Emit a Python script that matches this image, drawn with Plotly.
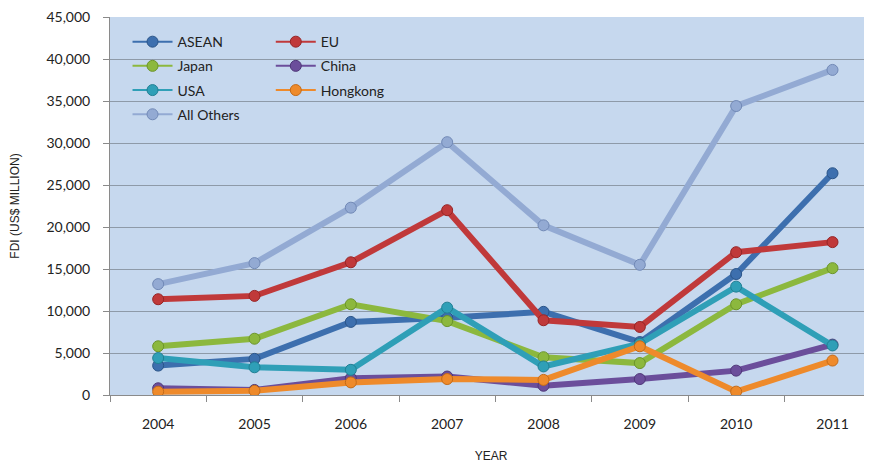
import plotly.graph_objects as go

years = ["2004", "2005", "2006", "2007", "2008", "2009", "2010", "2011"]

asean = [3500, 4300, 8700, 9200, 9900, 6300, 14400, 26400]
eu = [11400, 11800, 15800, 22000, 8900, 8100, 17000, 18200]
japan = [5800, 6700, 10800, 8800, 4500, 3800, 10800, 15100]
china = [800, 600, 2000, 2200, 1100, 1900, 2900, 6000]
usa = [4400, 3300, 3000, 10400, 3400, 6100, 12900, 5900]
hongkong = [400, 500, 1500, 1900, 1800, 5800, 400, 4100]
all_others = [13200, 15700, 22300, 30100, 20200, 15500, 34400, 38700]

# drawing order follows the original (last one on top)
series = [
    ("ASEAN", asean, "#3d6fae", "#2a5488", "legend"),
    ("EU", eu, "#c0393a", "#962526", "legend2"),
    ("Japan", japan, "#8cb83e", "#6b942a", "legend"),
    ("China", china, "#6b4e9b", "#4f3778", "legend2"),
    ("USA", usa, "#2f9fb7", "#217f93", "legend"),
    ("Hongkong", hongkong, "#ee8a2b", "#c46b18", "legend2"),
    ("All Others", all_others, "#93aad3", "#7189b6", "legend"),
]

fig = go.Figure()
for name, vals, col, edge, leg in series:
    fig.add_trace(go.Scatter(
        x=years, y=vals, name=name, mode="lines+markers",
        line=dict(color=col, width=6),
        marker=dict(size=11, color=col, line=dict(color=edge, width=1)),
        showlegend=False,
    ))
    # legend entry with the thinner line used in the original key
    fig.add_trace(go.Scatter(
        x=[None], y=[None], name=name, mode="lines+markers",
        line=dict(color=col, width=2),
        marker=dict(size=11, color=col, line=dict(color=edge, width=1)),
        legend=leg, legendgroup=name,
    ))

legend_style = dict(
    bgcolor="rgba(0,0,0,0)", yanchor="top",
    font=dict(family="Lato", size=14, color="#222"),
    traceorder="grouped", tracegroupgap=3, itemwidth=40,
)

# page body adds an 8px margin, so the figure is sized to fit the window
fig.update_layout(
    width=864, height=455,
    margin=dict(l=102, r=0, t=9, b=68),
    paper_bgcolor="white",
    plot_bgcolor="#c6d8ee",
    font=dict(family="Liberation Sans", color="#222"),
    legend=dict(x=0.023, y=0.976, **legend_style),
    legend2=dict(x=0.211, y=0.976, **legend_style),
    xaxis=dict(
        range=[-0.5, 7.41], tickson="boundaries", ticks="outside", ticklen=6,
        tickcolor="#8a8a8a", showline=True, linecolor="#8a8a8a", showgrid=False,
        tickfont=dict(family="Lato", size=14), ticklabelstandoff=16,
        title=dict(text="YEAR", font=dict(size=12), standoff=22),
        automargin=False,
    ),
    yaxis=dict(
        range=[0, 45000], dtick=5000, tickformat=",", ticks="outside", ticklen=6,
        tickcolor="#8a8a8a", showline=True, linecolor="#8a8a8a",
        gridcolor="#8e9aa8", gridwidth=1, zeroline=False,
        tickfont=dict(family="Lato", size=14), ticklabelstandoff=10,
        ticklabeloverflow="allow",
        title=dict(text="FDI (US$ MILLION)", font=dict(size=12), standoff=24),
        automargin=False,
    ),
)

fig.write_html("out.html")
